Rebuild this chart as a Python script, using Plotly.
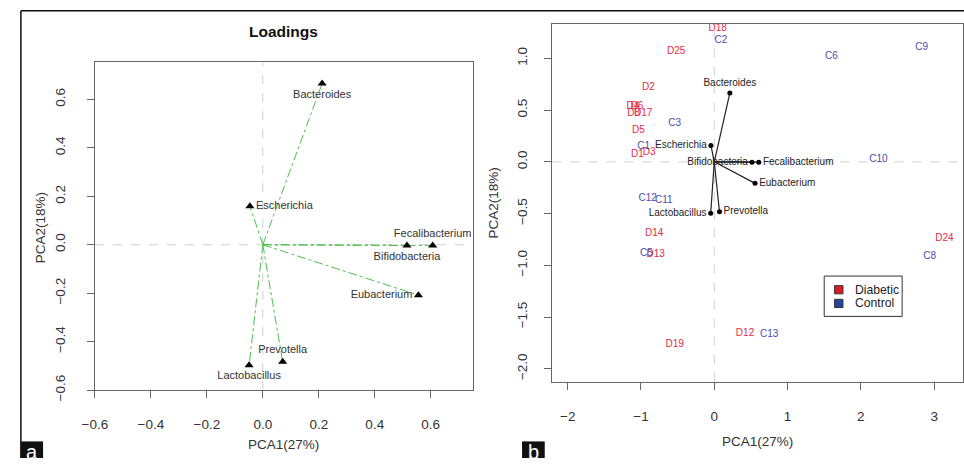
import plotly.graph_objects as go

W, H = 964, 469

# ---------------- data ----------------
genera = ["Bacteroides", "Escherichia", "Fecalibacterium", "Bifidobacteria",
          "Eubacterium", "Prevotella", "Lactobacillus"]
pc1_load = [0.212, -0.046, 0.607, 0.515, 0.556, 0.071, -0.049]
pc2_load = [0.665, 0.159, -0.003, -0.003, -0.208, -0.483, -0.497]
load_pos_a = ["bottom center", "middle right", "top center", "bottom center",
              "middle left", "top center", "bottom center"]
load_pos_b = ["top center", "middle left", "middle right", "middle left",
              "middle right", "middle right", "middle left"]

sample_labels = ["D18", "C2", "D25", "C6", "C9", "D2", "D4", "D6", "D8", "D17",
                 "C3", "D5", "C1", "D1", "D3", "C10", "C12", "C11", "D14", "C5",
                 "D13", "D24", "C8", "D12", "C13", "D19"]
sample_pc1 = [0.045, 0.09, -0.52, 1.60, 2.83, -0.90, -1.11, -1.056, -1.10, -0.97,
              -0.54, -1.036, -0.965, -1.05, -0.89, 2.24, -0.91, -0.69, -0.82, -0.925,
              -0.80, 3.14, 2.94, 0.42, 0.75, -0.54]
sample_pc2 = [1.284, 1.173, 1.063, 1.019, 1.10, 0.719, 0.536, 0.536, 0.470, 0.470,
              0.375, 0.30, 0.148, 0.07, 0.092, 0.02, -0.35, -0.37, -0.69, -0.886,
              -0.90, -0.74, -0.914, -1.656, -1.665, -1.77]

groups = ["Diabetic", "Control"]
group_colors = {"Diabetic": "#e32b45", "Control": "#4b4bab"}
legend_colors = {"Diabetic": "#e01a22", "Control": "#2444a0"}

FONT = "Liberation Sans, Arial, sans-serif"


def px(x):
    return x / W


def py(y):
    return 1 - y / H


fig = go.Figure()

# ---------------- panel a: loadings ----------------
lx, ly = [], []
for a, b in zip(pc1_load, pc2_load):
    lx += [0, a, None]
    ly += [0, b, None]
fig.add_trace(go.Scatter(x=lx, y=ly, mode="lines", xaxis="x", yaxis="y",
                         line=dict(color="#4cc04c", width=1, dash="dashdot"),
                         showlegend=False, hoverinfo="skip"))
fig.add_trace(go.Scatter(x=pc1_load, y=pc2_load, mode="markers+text", xaxis="x", yaxis="y",
                         marker=dict(symbol="triangle-up", size=8, color="black"),
                         text=genera, textposition=load_pos_a,
                         textfont=dict(family=FONT, size=11, color="#333"),
                         showlegend=False, cliponaxis=False))

# ---------------- panel b: biplot ----------------
for g in groups:
    idx = [i for i, s in enumerate(sample_labels) if s[0] == g[0]]
    fig.add_trace(go.Scatter(x=[sample_pc1[i] for i in idx], y=[sample_pc2[i] for i in idx],
                             mode="text", xaxis="x2", yaxis="y2",
                             text=[sample_labels[i] for i in idx], textposition="middle center",
                             textfont=dict(family=FONT, size=10, color=group_colors[g]),
                             showlegend=False, cliponaxis=False))

fig.add_trace(go.Scatter(x=lx, y=ly, mode="lines", xaxis="x2", yaxis="y2",
                         line=dict(color="#222", width=1.2), showlegend=False, hoverinfo="skip"))
fig.add_trace(go.Scatter(x=pc1_load, y=pc2_load, mode="markers+text", xaxis="x2", yaxis="y2",
                         marker=dict(size=5, color="black"),
                         text=genera, textposition=load_pos_b,
                         textfont=dict(family=FONT, size=10, color="#222"),
                         showlegend=False, cliponaxis=False))

# ---------------- axes ----------------
axis_common = dict(showline=True, mirror=True, linecolor="#666", linewidth=1,
                   ticks="outside", ticklen=7, tickcolor="#666", showgrid=False,
                   zeroline=False, tickfont=dict(family=FONT, size=13.5, color="#333"))

fig.update_layout(
    width=W, height=H, margin=dict(l=0, r=0, t=0, b=0),
    paper_bgcolor="white", plot_bgcolor="white", showlegend=False,
    xaxis=dict(domain=[px(83), px(466)], range=[-0.6, 0.75], tickvals=[-0.6, -0.4, -0.2, 0, 0.2, 0.4, 0.6],
               tickformat=".1f", anchor="y", ticklabelstandoff=15, **axis_common),
    yaxis=dict(domain=[py(399.5), py(64)], range=[-0.6, 0.752], tickvals=[-0.6, -0.4, -0.2, 0, 0.2, 0.4, 0.6],
               tickformat=".1f", tickangle=-90, anchor="x", ticklabelstandoff=16, **axis_common),
    xaxis2=dict(domain=[px(546.7), px(962.7)], range=[-2.21, 3.39], tickvals=[-2, -1, 0, 1, 2, 3],
                anchor="y2", ticklabelstandoff=15, **axis_common),
    yaxis2=dict(domain=[py(390.7), py(25)], range=[-2.123, 1.328],
                tickvals=[-2, -1.5, -1, -0.5, 0, 0.5, 1], tickformat=".1f", tickangle=-90,
                anchor="x2", ticklabelstandoff=12, **axis_common),
)

shapes = [
    # zero reference lines
    dict(type="line", xref="x", yref="y domain", x0=0, x1=0, y0=0, y1=1,
         line=dict(color="#cfcfcf", width=1, dash="dash"), layer="below"),
    dict(type="line", xref="x domain", yref="y", x0=0, x1=1, y0=0, y1=0,
         line=dict(color="#cfcfcf", width=1, dash="dash"), layer="below"),
    dict(type="line", xref="x2", yref="y2 domain", x0=0, x1=0, y0=0, y1=1,
         line=dict(color="#cfcfcf", width=1, dash="dash"), layer="below"),
    dict(type="line", xref="x2 domain", yref="y2", x0=0, x1=1, y0=0, y1=0,
         line=dict(color="#cfcfcf", width=1, dash="dash"), layer="below"),
    # figure frame lines
    dict(type="line", xref="paper", yref="paper", x0=px(8), x1=1, y0=py(11), y1=py(11),
         line=dict(color="#111", width=1.5)),
    dict(type="line", xref="paper", yref="paper", x0=px(8), x1=px(8), y0=py(11), y1=0,
         line=dict(color="#111", width=1.5)),
    # panel tags
    dict(type="rect", xref="paper", yref="paper", x0=px(8), x1=px(30.5), y0=0, y1=py(452),
         fillcolor="#111", line=dict(width=0)),
    dict(type="rect", xref="paper", yref="paper", x0=px(516), x1=px(539), y0=0, y1=py(452),
         fillcolor="#111", line=dict(width=0)),
    # legend frame
    dict(type="rect", xref="paper", yref="paper", x0=px(822.3), x1=px(901.3), y0=py(324), y1=py(282.7),
         fillcolor="white", line=dict(color="#333", width=1)),
]

ann = [
    dict(text="<b>Loadings</b>", x=px(274.5), y=py(32), font=dict(size=15.5, color="#111")),
    dict(text="PCA1(27%)", x=px(274.5), y=py(455), font=dict(size=13.5, color="#333")),
    dict(text="PCA2(18%)", x=px(28), y=py(233), textangle=-90, font=dict(size=13.5, color="#333")),
    dict(text="PCA1(27%)", x=px(755), y=py(452), font=dict(size=13.5, color="#333")),
    dict(text="PCA2(18%)", x=px(487), y=py(208), textangle=-90, font=dict(size=13.5, color="#333")),
    dict(text="a", x=px(19.3), y=py(463), font=dict(size=20, color="white")),
    dict(text="b", x=px(527.5), y=py(463), font=dict(size=20, color="white")),
]

# legend entries (drawn manually to match the R legend box)
for k, g in enumerate(groups):
    yc = 296.7 + 14 * k
    shapes.append(dict(type="rect", xref="paper", yref="paper", x0=px(832.8), x1=px(841.3),
                       y0=py(yc + 4.2), y1=py(yc - 4.2), fillcolor=legend_colors[g],
                       line=dict(color="#333", width=1)))
    ann.append(dict(text=g, x=px(851.5), y=py(yc), xanchor="left",
                    font=dict(size=12.2, color="#222")))

for a in ann:
    a.setdefault("xanchor", "center")
    a.update(xref="paper", yref="paper", showarrow=False, yanchor="middle")
    a["font"]["family"] = FONT
fig.update_layout(shapes=shapes, annotations=ann)

fig.write_html("out.html")
